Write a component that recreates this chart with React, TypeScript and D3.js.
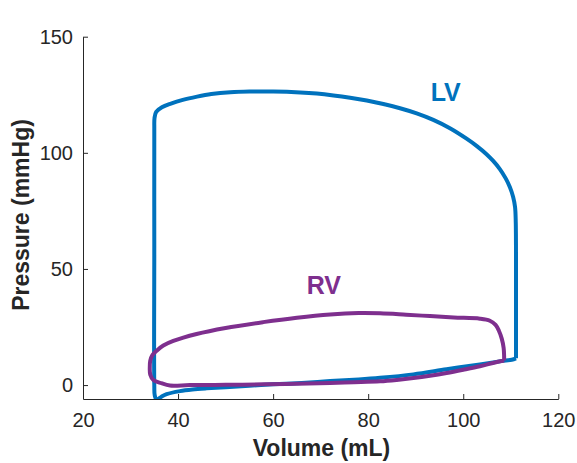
import React, { useEffect, useRef } from "react";
import * as d3 from "d3";

// LV pressure-volume loop (mL, mmHg), traced from end-diastole upwards
const lvVolume = [
  111.1, 111.1, 111.05, 110.9, 110.5, 109.8, 108.9, 107.7, 106.3, 104.9, 102.8,
  100.7, 97.2, 93.7, 90.2, 86.7, 83.2, 79.7, 76.2, 72.7, 69.2, 65.7, 60, 55, 51,
  47, 44, 41, 38.5, 36.6, 35.4, 35.05, 35.0, 35.0, 35.0, 35.1, 35.5, 36.5, 37.6,
  40.4, 43, 46, 50, 55, 60, 66, 72, 78, 82.5, 89.5, 96.5, 103.5, 108, 110.2,
  111.1,
];
const lvPressure = [
  11.5, 40, 70, 76.7, 81, 85.3, 89.1, 93.0, 96.5, 99.4, 103.0, 106.1, 110.6,
  114.2, 117.0, 119.2, 121.0, 122.5, 123.7, 124.7, 125.5, 126.0, 126.4, 126.4,
  126.1, 125.3, 124.2, 122.8, 121.2, 119.6, 117.6, 115, 110, 60, 0, -4.5, -6.3,
  -5.0, -3.9, -2.6, -1.9, -1.4, -0.9, -0.3, 0.3, 0.9, 1.7, 2.4, 3.1, 4.6, 6.8,
  8.9, 10.3, 10.9, 11.5,
];

// RV loop
const rvVolume = [
  108.6, 106, 103.5, 100, 96.5, 93, 89.5, 86, 82.5, 77, 72, 65, 58, 50, 42.5,
  38.3, 36.5, 34.8, 34.15, 34.05, 34.15, 34.6, 35.5, 36.9, 39, 43.9, 50, 57.9,
  65, 72, 78, 82.5, 88, 93, 98, 103.5, 105.6, 106.8, 107.5, 108.1, 108.5,
  108.6, 108.6,
];
const rvPressure = [
  10.6, 9.4, 8.1, 6.6, 5.2, 4.0, 3.0, 2.2, 1.6, 1.2, 0.9, 0.6, 0.3, 0.1, 0.0,
  -0.2, 0.8, 2.2, 4.5, 7.5, 10.5, 12.9, 14.8, 17.0, 19.0, 22.0, 24.6, 27.1,
  29.0, 30.4, 31.0, 30.9, 30.3, 29.7, 29.1, 28.6, 27.7, 25.9, 23.4, 20, 16,
  12.5, 10.6,
];

const xTicks = [20, 40, 60, 80, 100, 120];
const yTicks = [0, 50, 100, 150];

const App = () => {
  const ref = useRef(null);

  useEffect(() => {
    const svg = d3.select(ref.current);
    svg.selectAll("*").remove();

    const width = 577;
    const height = 463;
    const margin = { top: 36.7, right: 18.7, bottom: 64, left: 83 };
    const axisColor = "#262626";
    const font = "'Liberation Sans', Arial, Helvetica, sans-serif";

    const x = d3
      .scaleLinear()
      .domain([20, 120])
      .range([margin.left, width - margin.right]);
    const y = d3
      .scaleLinear()
      .domain([-6, 150])
      .range([height - margin.bottom, margin.top]);

    svg
      .append("clipPath")
      .attr("id", "plotclip")
      .append("rect")
      .attr("x", margin.left)
      .attr("y", margin.top)
      .attr("width", width - margin.left - margin.right)
      .attr("height", height - margin.top - margin.bottom);

    const line = d3
      .line<[number, number]>()
      .x((d) => x(d[0]))
      .y((d) => y(d[1]))
      .curve(d3.curveCatmullRom.alpha(0.5));

    const plot = svg.append("g").attr("clip-path", "url(#plotclip)");

    const lv = lvVolume.map((v, i) => [v, lvPressure[i]] as [number, number]);
    const rv = rvVolume.map((v, i) => [v, rvPressure[i]] as [number, number]);

    plot
      .append("path")
      .attr("d", line(lv))
      .attr("fill", "none")
      .attr("stroke", "#0072BD")
      .attr("stroke-width", 4)
      .attr("stroke-linejoin", "round");

    plot
      .append("path")
      .attr("d", line(rv))
      .attr("fill", "none")
      .attr("stroke", "#7E2F8E")
      .attr("stroke-width", 4)
      .attr("stroke-linejoin", "round");

    // X Axis (ticks pointing inward)
    const gx = svg
      .append("g")
      .attr("transform", `translate(0,${height - margin.bottom})`)
      .call(d3.axisBottom(x).tickValues(xTicks).tickSizeInner(-5).tickSizeOuter(0).tickPadding(14));
    gx.select(".domain").attr("stroke", axisColor);
    gx.selectAll("line").attr("stroke", axisColor);
    gx.selectAll("text")
      .attr("fill", axisColor)
      .attr("font-size", 20)
      .attr("font-family", font);

    // Y Axis
    const gy = svg
      .append("g")
      .attr("transform", `translate(${margin.left},0)`)
      .call(d3.axisLeft(y).tickValues(yTicks).tickSizeInner(-5).tickSizeOuter(0).tickPadding(10));
    gy.select(".domain").attr("stroke", axisColor);
    gy.selectAll("line").attr("stroke", axisColor);
    gy.selectAll("text")
      .attr("fill", axisColor)
      .attr("font-size", 20)
      .attr("font-family", font);

    svg
      .append("text")
      .attr("x", 321.5)
      .attr("y", 456)
      .attr("text-anchor", "middle")
      .attr("font-family", font)
      .attr("font-weight", "bold")
      .attr("font-size", 23)
      .attr("fill", axisColor)
      .text("Volume (mL)");

    svg
      .append("text")
      .attr("transform", "translate(29,215) rotate(-90)")
      .attr("text-anchor", "middle")
      .attr("font-family", font)
      .attr("font-weight", "bold")
      .attr("font-size", 23)
      .attr("fill", axisColor)
      .text("Pressure (mmHg)");

    svg
      .append("text")
      .attr("x", 430.7)
      .attr("y", 100.7)
      .attr("font-family", font)
      .attr("font-weight", "bold")
      .attr("font-size", 25)
      .attr("fill", "#0072BD")
      .text("LV");

    svg
      .append("text")
      .attr("x", 306.7)
      .attr("y", 294)
      .attr("font-family", font)
      .attr("font-weight", "bold")
      .attr("font-size", 25)
      .attr("fill", "#7E2F8E")
      .text("RV");
  }, []);

  return (
    <svg
      ref={ref}
      width={577}
      height={463}
      style={{ position: "absolute", left: 0, top: 0, background: "#fff" }}
    />
  );
};

export default App;
